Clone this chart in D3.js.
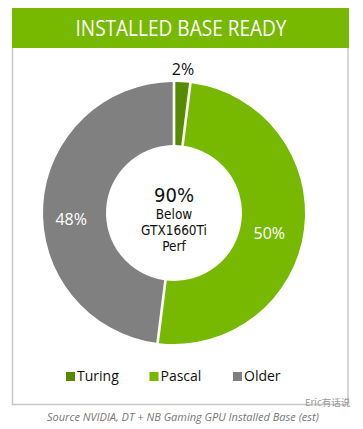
<!DOCTYPE html>
<html>
<head>
<meta charset="utf-8">
<script src="https://cdn.jsdelivr.net/npm/d3@7"></script>
<style>
  html, body { margin: 0; padding: 0; background: #fff; }
  svg { display: block; font-family: "Open Sans", "DejaVu Sans", sans-serif; }
</style>
</head>
<body>
<svg id="chart" width="363" height="429"></svg>
<script>
// chart values
const categories = ['Turing', 'Pascal', 'Older'];
const shares = [2, 50, 48];
const sliceLabels = ['2%', '50%', '48%'];
const colors = ['#568b00', '#76b900', '#808080'];
const labelColors = ['#111', '#fff', '#fff'];
const titleText = 'INSTALLED BASE READY';
const centerLines = ['90%', 'Below', 'GTX1660Ti', 'Perf'];
const sourceText = 'Source NVIDIA, DT + NB Gaming GPU Installed Base (est)';

const W = 363, H = 429;
const cx = 174, cy = 213;
const outerR = 131, innerR = 68;

const svg = d3.select('#chart');

// frame: grey side and bottom lines
const frame = svg.append('g').attr('stroke', '#c8c8c8').attr('stroke-width', 1.5).attr('fill', 'none');
frame.append('path').attr('d', `M12.5,48 V404.5 H348 V48`);

// title bar
svg.append('rect')
  .attr('x', 12).attr('y', 8)
  .attr('width', 337).attr('height', 40)
  .attr('fill', '#76b900');

svg.append('text')
  .attr('x', 181).attr('y', 36)
  .attr('text-anchor', 'middle')
  .attr('fill', '#fff')
  .style('font-size', '22px')
  .attr('textLength', 211)
  .attr('lengthAdjust', 'spacingAndGlyphs')
  .text(titleText);

// donut
const data = categories.map((c, i) => ({ name: c, value: shares[i], label: sliceLabels[i], color: colors[i], lc: labelColors[i] }));

const pie = d3.pie().value(d => d.value).sort(null);
const arc = d3.arc().innerRadius(innerR).outerRadius(outerR).padAngle(0.018);

const g = svg.append('g').attr('transform', `translate(${cx},${cy})`);

const arcs = pie(data);

g.selectAll('path.slice')
  .data(arcs)
  .enter().append('path')
  .attr('class', 'slice')
  .attr('d', arc)
  .attr('fill', d => d.data.color);

// slice labels
const labelRadius = [144, 96, 103];
const labelDy = [6, 14, 18];
g.selectAll('text.slice-label')
  .data(arcs)
  .enter().append('text')
  .attr('class', 'slice-label')
  .attr('transform', (d, i) => {
    const a = (d.startAngle + d.endAngle) / 2;
    const r = labelRadius[i];
    return `translate(${r * Math.sin(a)},${-r * Math.cos(a) + labelDy[i]})`;
  })
  .attr('text-anchor', 'middle')
  .attr('fill', d => d.data.lc)
  .style('font-size', '16px')
  .text(d => d.data.label);

// center text
const center = g.append('g')
  .attr('text-anchor', 'middle')
  .attr('fill', '#111')
  .style('font-family', '"DejaVu Sans Condensed", "DejaVu Sans", sans-serif');
center.append('text').attr('y', -11.5).style('font-size', '20px').text(centerLines[0]);
center.selectAll('text.sub')
  .data(centerLines.slice(1))
  .enter().append('text')
  .attr('class', 'sub')
  .attr('y', (d, i) => 6 + i * 16)
  .style('font-size', '13.5px')
  .text(d => d);

// legend
const legendX = d3.scalePoint().domain(categories).range([66, 233]);
const legend = svg.append('g').selectAll('g')
  .data(data)
  .enter().append('g')
  .attr('transform', d => `translate(${legendX(d.name)},372)`);
legend.append('rect').attr('width', 9).attr('height', 9).attr('fill', d => d.color);
legend.append('text')
  .attr('x', 11).attr('y', 9)
  .attr('fill', '#111')
  .style('font-size', '14px')
  .text(d => d.name);

// source
svg.append('text')
  .attr('x', 47).attr('y', 421)
  .attr('fill', '#777')
  .style('font-size', '11px')
  .style('font-style', 'italic')
  .text(sourceText);

// watermark
svg.append('text')
  .attr('x', 305).attr('y', 406)
  .attr('fill', '#999')
  .style('font-size', '9.5px')
  .style('font-family', '"Noto Sans CJK SC", sans-serif')
  .text('Eric有话说');
</script>
</body>
</html>
